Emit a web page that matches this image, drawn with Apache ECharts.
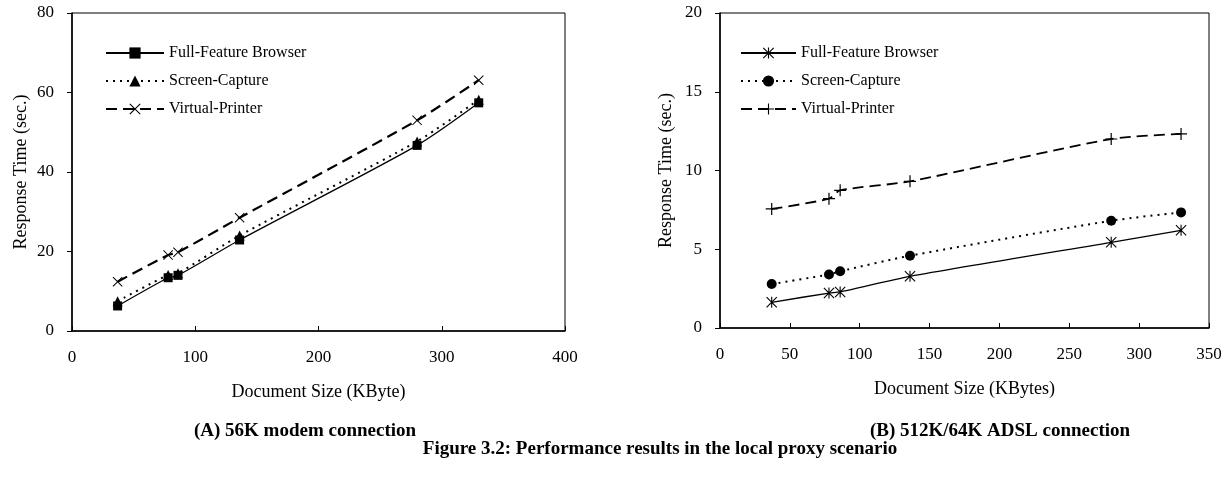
<!DOCTYPE html>
<html>
<head>
<meta charset="utf-8">
<script src="https://cdn.jsdelivr.net/npm/echarts@6/dist/echarts.min.js"></script>
<style>
html,body{margin:0;padding:0;background:#fff;}
#c{width:1231px;height:478px;}
</style>
</head>
<body>
<div id="c"></div>
<script>
// ---- data ----
var sizesA = [37, 78, 86, 136, 280, 330];
var fullA = [6.3, 13.4, 14.0, 22.9, 46.7, 57.4];
var screenA = [7.5, 14.1, 14.5, 24.0, 47.7, 58.2];
var virtualA = [12.4, 19.1, 19.8, 28.5, 53.0, 63.1];

var sizesB = [37, 78, 86, 136, 280, 330];
var fullB = [1.63, 2.22, 2.29, 3.28, 5.44, 6.2];
var screenB = [2.79, 3.4, 3.6, 4.59, 6.81, 7.34];
var virtualB = [7.56, 8.21, 8.74, 9.31, 12.0, 12.32];

var seriesNames = ['Full-Feature Browser', 'Screen-Capture', 'Virtual-Printer'];
var xNameA = 'Document Size (KByte)';
var xNameB = 'Document Size (KBytes)';
var yName = 'Response Time (sec.)';
var captionA = '(A) 56K modem connection';
var captionB = '(B) 512K/64K ADSL connection';
var figCaption = 'Figure 3.2: Performance results in the local proxy scenario';

function pairs(xs, ys) { return xs.map(function (x, i) { return [x, ys[i]]; }); }

var FONT = '"Liberation Serif", "Times New Roman", serif';
var XMARK = 'path://M0,1.4L1.4,0L10,8.6L18.6,0L20,1.4L11.4,10L20,18.6L18.6,20L10,11.4L1.4,20L0,18.6L8.6,10Z';
var PLUS = 'path://M9,0H11V9H20V11H11V20H9V11H0V9H9Z';
var STAR = 'path://M0,1.4L1.4,0L10,8.6L18.6,0L20,1.4L11.4,10L20,18.6L18.6,20L10,11.4L1.4,20L0,18.6L8.6,10Z M9,0H11V20H9Z';

var chart = echarts.init(document.getElementById('c'), null, {renderer: 'canvas'});

function xAxisOpt(grid, max, interval, name) {
  return {
    type: 'value', gridIndex: grid, min: 0, max: max, interval: interval,
    name: name, nameLocation: 'middle', nameGap: 52,
    nameTextStyle: {fontFamily: FONT, fontSize: 18, color: '#000'},
    axisLine: {show: true, lineStyle: {color: '#000', width: 1.5}},
    axisTick: {show: true, inside: true, length: 5, lineStyle: {color: '#000', width: 1}},
    axisLabel: {fontFamily: FONT, fontSize: 17, color: '#000', margin: 18},
    splitLine: {show: false}
  };
}
function yAxisOpt(grid, max, interval, gap) {
  return {
    type: 'value', gridIndex: grid, min: 0, max: max, interval: interval,
    name: yName, nameLocation: 'middle', nameGap: gap, nameRotate: 90,
    nameTextStyle: {fontFamily: FONT, fontSize: 18, color: '#000'},
    axisLine: {show: true, lineStyle: {color: '#000', width: 1.5}},
    axisTick: {show: true, inside: false, length: 5, lineStyle: {color: '#000', width: 1}},
    axisLabel: {fontFamily: FONT, fontSize: 17, color: '#000', margin: 18},
    splitLine: {show: false}
  };
}

function lineSeries(name, grid, data, dash, width, symbol, size) {
  return {
    name: name, type: 'line', xAxisIndex: grid, yAxisIndex: grid,
    data: data, smooth: 0.25,
    symbol: symbol, symbolSize: size,
    showAllSymbol: true,
    lineStyle: {color: '#000', width: width, type: dash},
    itemStyle: {color: '#000', borderWidth: 0},
    emphasis: {disabled: true},
    animation: false
  };
}

function legendOpt(name, display, left, top, w) {
  return {
    data: [name], left: left, top: top, orient: 'vertical',
    itemWidth: w, itemHeight: 14, padding: 0,
    selectedMode: false,
    formatter: function () { return display; },
    textStyle: {fontFamily: FONT, fontSize: 16, color: '#000', padding: [0, 0, 0, 0]}
  };
}

var capStyle = {fontFamily: FONT, fontSize: 19, fontWeight: 'bold', color: '#000'};

var option = {
  backgroundColor: '#fff',
  animation: false,
  grid: [
    {left: 72, top: 13, width: 493, height: 318, show: true, borderColor: '#000', borderWidth: 1},
    {left: 720, top: 13, width: 489, height: 315, show: true, borderColor: '#000', borderWidth: 1}
  ],
  xAxis: [xAxisOpt(0, 400, 100, xNameA), xAxisOpt(1, 350, 50, xNameB)],
  yAxis: [yAxisOpt(0, 80, 20, 42), yAxisOpt(1, 20, 5, 45)],
  legend: [
    legendOpt('A1', seriesNames[0], 105, 45, 58),
    legendOpt('A2', seriesNames[1], 105, 73, 58),
    legendOpt('A3', seriesNames[2], 105, 101, 58),
    legendOpt('B1', seriesNames[0], 740, 45, 55),
    legendOpt('B2', seriesNames[1], 740, 73, 55),
    legendOpt('B3', seriesNames[2], 740, 101, 55)
  ],
  title: [
    {text: captionA, left: 300, top: 417, textAlign: 'center', textStyle: capStyle},
    {text: captionB, left: 995, top: 417, textAlign: 'center', textStyle: capStyle},
    {text: figCaption, left: 655, top: 435, textAlign: 'center', textStyle: capStyle}
  ],
  series: [
    lineSeries('A1', 0, pairs(sizesA, fullA), 'solid', 1.3, 'rect', 9),
    lineSeries('A2', 0, pairs(sizesA, screenA), [2, 5], 2, 'triangle', 10),
    lineSeries('A3', 0, pairs(sizesA, virtualA), [11, 6], 2.2, XMARK, 10),
    lineSeries('B1', 1, pairs(sizesB, fullB), 'solid', 1.3, STAR, 11),
    lineSeries('B2', 1, pairs(sizesB, screenB), [2, 5], 2, 'circle', 10),
    lineSeries('B3', 1, pairs(sizesB, virtualB), [11, 6], 1.8, PLUS, 12)
  ]
};
chart.setOption(option);
</script>
</body>
</html>
